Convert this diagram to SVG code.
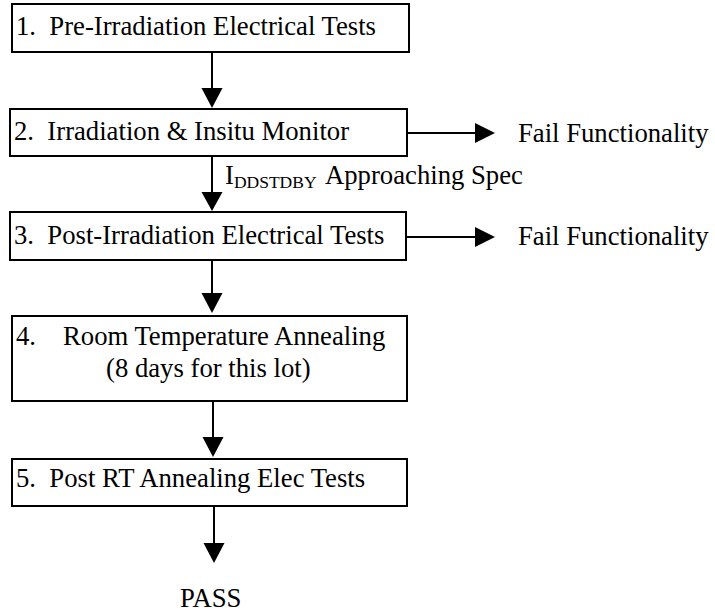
<svg xmlns="http://www.w3.org/2000/svg" width="715" height="614" viewBox="0 0 715 614">
<style>
.box{fill:#fff;stroke:#000;stroke-width:2}
.t{font-family:"Liberation Serif","Times New Roman",serif;font-size:26.7px;fill:#000}
.sub{font-size:17.5px}
.ln{stroke:#000;stroke-width:2;fill:none}
.ah{fill:#000;stroke:none}
</style>
<rect width="715" height="614" fill="#fff"/>
<g id="connectors">
<line class="ln" x1="212" y1="52" x2="212" y2="90"/>
<polygon class="ah" points="201.5,88 222.5,88 212,108"/>
<line class="ln" x1="212" y1="156" x2="212" y2="194"/>
<polygon class="ah" points="201.5,192 222.5,192 212,211"/>
<line class="ln" x1="212" y1="260" x2="212" y2="295"/>
<polygon class="ah" points="201.5,293 222.5,293 212,313"/>
<line class="ln" x1="213" y1="401" x2="213" y2="439"/>
<polygon class="ah" points="202.5,437 223.5,437 213,457"/>
<line class="ln" x1="214" y1="506" x2="214" y2="545"/>
<polygon class="ah" points="203.5,543 224.5,543 214,563"/>
<line class="ln" x1="407" y1="133" x2="477" y2="133"/>
<polygon class="ah" points="475,123 475,143 495,133"/>
<line class="ln" x1="406" y1="237" x2="477" y2="237"/>
<polygon class="ah" points="475,227 475,247 495,237"/>
<text class="t" x="225" y="184">I<tspan class="sub" dy="4">DDSTDBY</tspan><tspan dy="-4" x="325">Approaching Spec</tspan></text>
</g>
<g id="n1">
<rect class="box" x="12" y="4" width="397" height="48"/>
<text class="t" x="16" y="35" xml:space="preserve">1.  Pre-Irradiation Electrical Tests</text>
</g>
<g id="n2">
<rect class="box" x="10" y="109" width="397" height="47"/>
<text class="t" x="14" y="140" xml:space="preserve">2.  Irradiation &amp; Insitu Monitor</text>
</g>
<g id="n3">
<rect class="box" x="10" y="212" width="396" height="48"/>
<text class="t" x="14" y="244" xml:space="preserve">3.  Post-Irradiation Electrical Tests</text>
</g>
<g id="n4">
<rect class="box" x="12" y="316" width="395" height="85"/>
<text class="t" x="16" y="345">4.</text>
<text class="t" x="63" y="345">Room Temperature Annealing</text>
<text class="t" x="106" y="377">(8 days for this lot)</text>
</g>
<g id="n5">
<rect class="box" x="12" y="459" width="395" height="47"/>
<text class="t" x="16" y="487" xml:space="preserve">5.  Post RT Annealing Elec Tests</text>
</g>
<g id="f1"><text class="t" x="518" y="142">Fail Functionality</text></g>
<g id="f2"><text class="t" x="518" y="245">Fail Functionality</text></g>
<g id="pass"><text class="t" x="180" y="607">PASS</text></g>
</svg>
